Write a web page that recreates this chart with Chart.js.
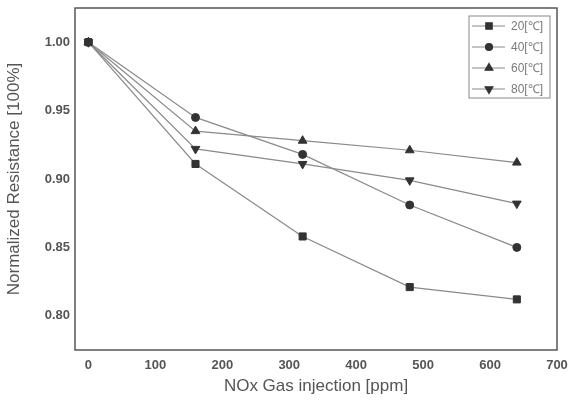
<!DOCTYPE html>
<html>
<head>
<meta charset="utf-8">
<script src="https://cdn.jsdelivr.net/npm/chart.js@4/dist/chart.umd.min.js"></script>
<style>
  html, body { margin: 0; padding: 0; background: #fff; }
  #wrap { width: 568px; height: 401px; position: relative; }
</style>
</head>
<body>
<div id="wrap"><canvas id="chart"></canvas></div>
<script>
// Data
const injection = [0, 160, 320, 480, 640];
const res20 = [1.000, 0.911, 0.858, 0.821, 0.812];
const res40 = [1.000, 0.945, 0.918, 0.881, 0.850];
const res60 = [1.000, 0.935, 0.928, 0.921, 0.912];
const res80 = [1.000, 0.922, 0.911, 0.899, 0.882];
const seriesLabels = ["20[\u2103]", "40[\u2103]", "60[\u2103]", "80[\u2103]"];
const xTicks = [0, 100, 200, 300, 400, 500, 600, 700];
const yTicks = [0.80, 0.85, 0.90, 0.95, 1.00];

const lineColor = "#8a8a8a";
const markColor = "#333333";
const fontFamily = "'Liberation Sans', Arial, sans-serif";

function toPoints(values) {
    return injection.map((x, i) => ({ x: x, y: values[i] }));
}

function makeSet(label, values, style, radius, rotation) {
    return {
        label: label,
        data: toPoints(values),
        borderColor: lineColor,
        borderWidth: 1.2,
        pointStyle: style,
        pointRadius: radius,
        pointRotation: rotation,
        pointBackgroundColor: markColor,
        pointBorderColor: markColor,
        pointBorderWidth: 1,
        tension: 0,
        fill: false
    };
}

// frame around the plot + legend box with line/marker samples
const framePlugin = {
    id: "frame",
    afterDatasetsDraw(chart) {
        const ctx = chart.ctx;
        const a = chart.chartArea;
        ctx.save();
        ctx.strokeStyle = "#555";
        ctx.lineWidth = 1.5;
        ctx.strokeRect(a.left, a.top, a.right - a.left, a.bottom - a.top);

        // legend
        const bx = 469, by = 16, bw = 81, bh = 82;
        ctx.strokeStyle = "#888";
        ctx.lineWidth = 1;
        ctx.strokeRect(bx, by, bw, bh);
        ctx.font = "12px " + fontFamily;
        ctx.textBaseline = "middle";
        ctx.textAlign = "left";
        chart.data.datasets.forEach((ds, i) => {
            const y = by + 10 + i * 21;
            ctx.strokeStyle = lineColor;
            ctx.lineWidth = 1.2;
            ctx.beginPath();
            ctx.moveTo(bx + 3, y);
            ctx.lineTo(bx + 36, y);
            ctx.stroke();
            ctx.fillStyle = markColor;
            ctx.strokeStyle = markColor;
            Chart.helpers.drawPoint(ctx, {
                pointStyle: ds.pointStyle,
                radius: ds.pointRadius - 0.5,
                rotation: ds.pointRotation,
                borderWidth: 1
            }, bx + 20, y);
            ctx.fillStyle = "#7a7a7a";
            ctx.fillText(ds.label, bx + 42, y + 1);
        });
        ctx.restore();
    }
};

const ctx = document.getElementById("chart").getContext("2d");

new Chart(ctx, {
    type: "line",
    data: {
        datasets: [
            makeSet(seriesLabels[0], res20, "rect", 5, 0),
            makeSet(seriesLabels[1], res40, "circle", 4, 0),
            makeSet(seriesLabels[2], res60, "triangle", 5, 0),
            makeSet(seriesLabels[3], res80, "triangle", 5, 180)
        ]
    },
    options: {
        responsive: true,
        maintainAspectRatio: false,
        animation: false,
        layout: { padding: { top: 8, right: 11, left: 0, bottom: 0 } },
        plugins: {
            legend: { display: false },
            tooltip: { enabled: false }
        },
        scales: {
            x: {
                type: "linear",
                min: -20,
                max: 700,
                grid: { display: false, drawTicks: false },
                border: { display: false },
                afterBuildTicks: scale => { scale.ticks = xTicks.map(v => ({ value: v })); },
                afterFit: scale => {
                    scale.height = 51;
                    scale.paddingLeft = 0;
                    scale.paddingRight = 0;
                },
                ticks: {
                    padding: 8,
                    color: "#555",
                    maxRotation: 0,
                    font: { family: fontFamily, size: 13, weight: "bold" }
                },
                title: {
                    display: true,
                    text: "NOx Gas injection [ppm]",
                    color: "#555",
                    padding: { top: 1 },
                    font: { family: fontFamily, size: 17 }
                }
            },
            y: {
                min: 0.775,
                max: 1.025,
                grid: { display: false, drawTicks: false },
                border: { display: false },
                afterBuildTicks: scale => { scale.ticks = yTicks.map(v => ({ value: v })); },
                afterFit: scale => {
                    scale.width = 75;
                    scale.paddingTop = 0;
                    scale.paddingBottom = 0;
                },
                ticks: {
                    padding: 5,
                    color: "#555",
                    callback: v => v.toFixed(2),
                    font: { family: fontFamily, size: 13, weight: "bold" }
                },
                title: {
                    display: true,
                    text: "Normalized Resistance [100%]",
                    color: "#555",
                    padding: { bottom: 6 },
                    font: { family: fontFamily, size: 17 }
                }
            }
        }
    },
    plugins: [framePlugin]
});
</script>
</body>
</html>
